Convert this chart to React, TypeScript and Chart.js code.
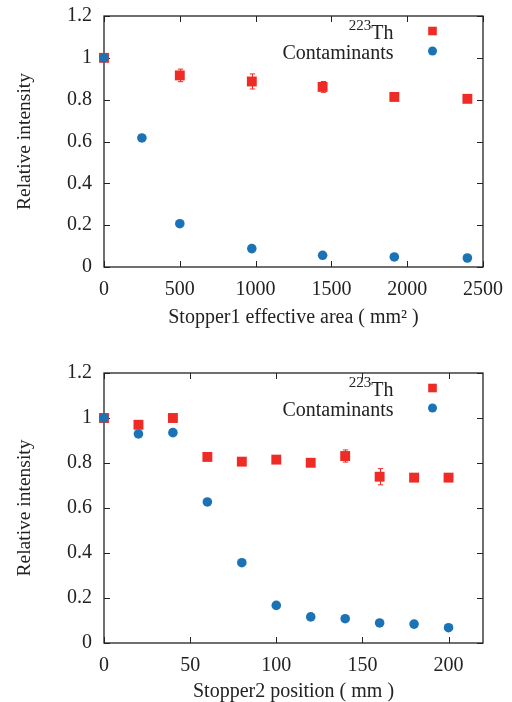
import React, { useEffect, useRef } from 'react';
import { Chart, registerables } from 'chart.js';

Chart.register(...registerables);

const FONT = '"Liberation Serif", "Times New Roman", serif';
const RED = '#ee2b25';
const BLUE = '#1b73b6';
const INK = '#222222';
const FS = 20;

// ---- Top panel: Stopper1 effective area ----
const areaThX = [0, 500, 975, 1442, 1915, 2397];
const areaTh = [1.0, 0.916, 0.887, 0.861, 0.813, 0.804];
const areaThErr = [0.01, 0.03, 0.036, 0.026, 0.01, 0.01];
const areaContX = [0, 250, 500, 975, 1442, 1915, 2397];
const areaCont = [1.0, 0.617, 0.207, 0.088, 0.056, 0.048, 0.043];

// ---- Bottom panel: Stopper2 position ----
const posX = [0, 20, 40, 60, 80, 100, 120, 140, 160, 180, 200];
const posTh = [1.0, 0.97, 1.0, 0.827, 0.806, 0.815, 0.801, 0.831, 0.739, 0.735, 0.735];
const posThErr = [0.01, 0.012, 0.01, 0.01, 0.015, 0.012, 0.01, 0.027, 0.036, 0.008, 0.008];
const posCont = [1.0, 0.929, 0.935, 0.627, 0.357, 0.167, 0.116, 0.108, 0.089, 0.084, 0.068];

const seriesNames = ['^{223}Th', 'Contaminants'];
const yTitle = 'Relative intensity';
const topXTitle = 'Stopper1 effective area ( mm\u00B2 )';
const bottomXTitle = 'Stopper2 position ( mm )';

const pts = (xs: number[], ys: number[]) => xs.map((x, i) => ({ x, y: ys[i] }));

const framePlugin = {
  id: 'frameTicks',
  beforeDatasetsDraw(chart: any) {
    const { ctx, chartArea } = chart;
    const { left, right, top, bottom } = chartArea;
    const xs = chart.scales.x;
    const ys = chart.scales.y;
    ctx.save();
    ctx.strokeStyle = INK;
    ctx.lineWidth = 1.3;
    ctx.strokeRect(left, top, right - left, bottom - top);
    ctx.lineWidth = 1;
    const L = 6;
    ctx.beginPath();
    xs.ticks.forEach((t: any) => {
      const px = Math.round(xs.getPixelForValue(t.value)) + 0.5;
      ctx.moveTo(px, bottom);
      ctx.lineTo(px, bottom - L);
      ctx.moveTo(px, top);
      ctx.lineTo(px, top + L);
    });
    ys.ticks.forEach((t: any) => {
      const py = Math.round(ys.getPixelForValue(t.value)) + 0.5;
      ctx.moveTo(left, py);
      ctx.lineTo(left + L, py);
      ctx.moveTo(right, py);
      ctx.lineTo(right - L, py);
    });
    ctx.stroke();

    // error bars
    chart.data.datasets.forEach((ds: any) => {
      if (!ds.errors) return;
      ctx.strokeStyle = ds.backgroundColor;
      ctx.lineWidth = 1;
      ctx.beginPath();
      ds.data.forEach((p: any, i: number) => {
        const e = ds.errors[i];
        const px = Math.round(xs.getPixelForValue(p.x)) + 0.5;
        const y1 = ys.getPixelForValue(p.y + e);
        const y2 = ys.getPixelForValue(p.y - e);
        ctx.moveTo(px, y1);
        ctx.lineTo(px, y2);
        ctx.moveTo(px - 2.7, y1);
        ctx.lineTo(px + 2.7, y1);
        ctx.moveTo(px - 2.7, y2);
        ctx.lineTo(px + 2.7, y2);
      });
      ctx.stroke();
    });
    ctx.restore();
  },
};

const keyPlugin = {
  id: 'insideKey',
  afterDatasetsDraw(chart: any) {
    const { ctx, chartArea } = chart;
    const textRight = chartArea.right - 89.5;
    const markX = chartArea.right - 50.5;
    ctx.save();
    chart.data.datasets.forEach((ds: any, i: number) => {
      const y = chartArea.top + 15 + i * 20;
      const m = /^\^\{([^}]*)\}(.*)$/.exec(ds.label);
      const main = m ? m[2] : ds.label;
      const sup = m ? m[1] : '';
      ctx.fillStyle = INK;
      ctx.textAlign = 'right';
      ctx.textBaseline = 'alphabetic';
      ctx.font = `${FS}px ${FONT}`;
      ctx.fillText(main, textRight, y + 8);
      if (sup) {
        const w = ctx.measureText(main).width;
        ctx.font = `15px ${FONT}`;
        ctx.fillText(sup, textRight - w, y - 1);
      }
      ctx.fillStyle = ds.backgroundColor;
      if (ds.pointStyle === 'rect') {
        ctx.fillRect(markX - 4.3, y - 4.3, 8.6, 8.6);
      } else {
        ctx.beginPath();
        ctx.arc(markX, y, 4.5, 0, Math.PI * 2);
        ctx.fill();
      }
    });
    ctx.restore();
  },
};

function makeConfig(opts: {
  thX: number[]; th: number[]; thErr: number[];
  contX: number[]; cont: number[];
  xMax: number; xStep: number; xTitle: string;
  padTop: number; xHeight: number; xTitlePad: number;
}): any {
  return {
    type: 'scatter',
    data: {
      datasets: [
        {
          label: seriesNames[0],
          data: pts(opts.thX, opts.th),
          errors: opts.thErr,
          pointStyle: 'rect',
          pointRadius: 7,
          pointBorderWidth: 0,
          backgroundColor: RED,
          borderColor: RED,
          order: 2,
          clip: false,
        },
        {
          label: seriesNames[1],
          data: pts(opts.contX, opts.cont),
          pointStyle: 'circle',
          pointRadius: 4.8,
          pointBorderWidth: 0,
          backgroundColor: BLUE,
          borderColor: BLUE,
          order: 1,
          clip: false,
        },
      ],
    },
    options: {
      responsive: false,
      animation: false,
      events: [],
      layout: { padding: { top: opts.padTop, right: 29, left: 0, bottom: 0 } },
      plugins: { legend: { display: false }, tooltip: { enabled: false } },
      scales: {
        x: {
          type: 'linear',
          min: 0,
          max: opts.xMax,
          grid: { display: false, drawTicks: false },
          border: { display: false },
          ticks: {
            stepSize: opts.xStep,
            includeBounds: false,
            autoSkip: false,
            maxRotation: 0,
            padding: 11,
            color: INK,
            font: { family: FONT, size: FS },
            callback: (v: number) => String(v),
          },
          title: {
            display: true,
            text: opts.xTitle,
            color: INK,
            font: { family: FONT, size: FS, lineHeight: 1 },
            padding: { top: 0, bottom: opts.xTitlePad },
          },
          afterFit: (s: any) => {
            s.height = opts.xHeight;
            s.paddingLeft = 0;
            s.paddingRight = 0;
          },
        },
        y: {
          type: 'linear',
          min: 0,
          max: 1.2,
          grid: { display: false, drawTicks: false },
          border: { display: false },
          ticks: {
            stepSize: 0.2,
            padding: 12,
            color: INK,
            font: { family: FONT, size: FS },
            callback: (v: number) => String(Number(v.toFixed(1))),
          },
          title: {
            display: true,
            text: yTitle,
            color: INK,
            font: { family: FONT, size: 19.5, lineHeight: 1 },
            padding: { top: 15.5, bottom: 0 },
          },
          afterFit: (s: any) => {
            s.width = 104;
            s.paddingTop = 0;
            s.paddingBottom = 0;
          },
        },
      },
    },
    plugins: [framePlugin, keyPlugin],
  };
}

export default function App() {
  const topRef = useRef<HTMLCanvasElement>(null);
  const botRef = useRef<HTMLCanvasElement>(null);

  useEffect(() => {
    const c1 = new Chart(topRef.current as HTMLCanvasElement, makeConfig({
      thX: areaThX, th: areaTh, thErr: areaThErr,
      contX: areaContX, cont: areaCont,
      xMax: 2500, xStep: 500, xTitle: topXTitle,
      padTop: 16, xHeight: 78, xTitlePad: 17.5,
    }));
    const c2 = new Chart(botRef.current as HTMLCanvasElement, makeConfig({
      thX: posX, th: posTh, thErr: posThErr,
      contX: posX, cont: posCont,
      xMax: 220, xStep: 50, xTitle: bottomXTitle,
      padTop: 28, xHeight: 59, xTitlePad: 0.5,
    }));
    return () => { c1.destroy(); c2.destroy(); };
  }, []);

  return (
    <div style={{ position: 'absolute', left: 0, top: 0, width: 512, height: 702, background: '#fff', overflow: 'hidden' }}>
      <canvas ref={topRef} width={512} height={345} style={{ position: 'absolute', left: 0, top: 0, width: 512, height: 345 }} />
      <canvas ref={botRef} width={512} height={357} style={{ position: 'absolute', left: 0, top: 345, width: 512, height: 357 }} />
    </div>
  );
}
